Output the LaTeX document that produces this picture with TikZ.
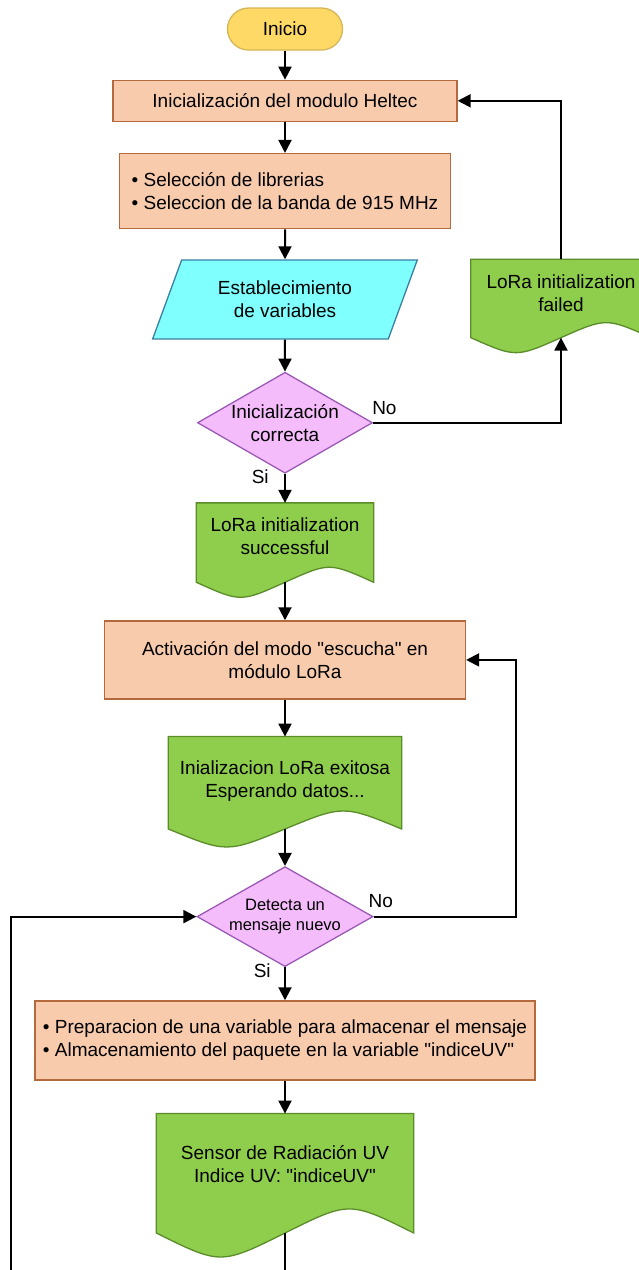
\documentclass[tikz,border=0pt]{standalone}
\usepackage{fontspec}
\setmainfont{Liberation Sans}
\usepackage{xcolor}
\usepackage{tikz}
\usetikzlibrary{positioning, arrows.meta, shapes.geometric, calc, backgrounds}

\definecolor{termfill}{HTML}{FFD966}
\definecolor{termline}{HTML}{D6B656}
\definecolor{procfill}{HTML}{F8CBAD}
\definecolor{procline}{HTML}{B46A3C}
\definecolor{iofill}{HTML}{80FFFF}
\definecolor{ioline}{HTML}{3C7FA0}
\definecolor{decfill}{HTML}{F5BCFC}
\definecolor{decline}{HTML}{9B59B6}
\definecolor{docfill}{HTML}{8FCE4C}
\definecolor{docline}{HTML}{5B8C2A}

% wavy document outline drawn under a plain node
\newcommand{\docshape}[2]{%
  \draw[docline, line width=1.3pt, fill=docfill]
    (#1.south west) -- (#1.north west) -- (#1.north east) -- (#1.south east)
    .. controls ($(#1.south east)!0.5!(#1.south)+(0,#2)$) .. (#1.south)
    .. controls ($(#1.south)!0.5!(#1.south west)+(0,-#2)$) .. (#1.south west) -- cycle;}

\begin{document}
\begin{tikzpicture}[
  font=\fontsize{19}{23}\selectfont,
  term/.style={
    rectangle, draw=termline, fill=termfill, line width=1.3pt,
    rounded corners=21pt, minimum width=115pt, minimum height=42pt
  },
  proc/.style={
    rectangle, draw=procline, fill=procfill, line width=1.3pt,
    align=center
  },
  io/.style={
    trapezium, trapezium left angle=63, trapezium right angle=117,
    draw=ioline, fill=iofill, line width=1.3pt, align=center,
    minimum width=265pt, minimum height=79pt, inner sep=0pt,
    trapezium stretches=true
  },
  decision/.style={
    diamond, draw=decline, fill=decfill, line width=1.3pt,
    inner sep=0pt, minimum width=175pt, minimum height=101pt
  },
  doc/.style={rectangle, align=center, inner sep=0pt},
  arr/.style={-{Triangle[length=13pt, width=13pt]}, line width=2pt},
  lbl/.style={font=\fontsize{19}{23}\selectfont}
]
\useasboundingbox (-285pt,29pt) rectangle (353pt,-1241pt);

\node[term] (start) at (0,0) {Inicio};
\node[proc, below=29pt of start, minimum width=344pt, minimum height=41pt] (heltec) {Inicialización del modulo Heltec};
\node[proc, below=31pt of heltec, minimum width=331pt, minimum height=75pt,
      align=left] (libs) {• Selección de librerias\\• Seleccion de la banda de 915 MHz};
\node[io, below=30pt of libs] (vars) {Establecimiento\\de variables};
\node[decision, below=32pt of vars,
      label={[align=center]center:Inicialización\\correcta}] (initok) {};
\node[doc, below=29pt of initok, minimum width=177pt, minimum height=79pt] (okmsg) {LoRa initialization\\successful\\[-11pt]};
\node[doc, anchor=north, minimum width=180pt, minimum height=78pt] (failmsg) at ([xshift=276pt]vars.north) {LoRa initialization\\failed\\[-12pt]};
\node[proc, below=38pt of okmsg, minimum width=361pt, minimum height=78pt] (listen) {Activación del modo \textquotedbl escucha\textquotedbl\ en\\módulo LoRa};
\node[doc, below=37pt of listen, minimum width=233pt, minimum height=92pt] (waitmsg) {Inializacion LoRa exitosa\\Esperando datos...\\[-16pt]};
\node[decision, below=37pt of waitmsg, minimum width=176pt, minimum height=100pt,
      label={[align=center, font=\fontsize{16.5}{19.5}\selectfont]center:Detecta un\\mensaje nuevo}] (newmsg) {};
\node[proc, below=33pt of newmsg, minimum width=500pt, minimum height=79pt,
      align=left] (store) {• Preparacion de una variable para almacenar el mensaje\\• Almacenamiento del paquete en la variable \textquotedbl indiceUV\textquotedbl};
\node[doc, below=33pt of store, minimum width=257pt, minimum height=119pt] (uvmsg) {Sensor de Radiación UV\\Indice UV: \textquotedbl indiceUV\textquotedbl\\[-4pt]};

\begin{scope}[on background layer]
\docshape{okmsg}{20pt}
\docshape{failmsg}{20pt}
\docshape{waitmsg}{24pt}
\docshape{uvmsg}{32pt}
\end{scope}

\coordinate (loopL) at (-274pt,-1241pt);
\coordinate (bottom) at (uvmsg.south |- loopL);

\draw[arr] (start) -- (heltec);
\draw[arr] (heltec) -- (libs);
\draw[arr] (libs) -- (vars);
\draw[arr] (vars) -- (initok);
\draw[arr] (initok) -- node[lbl, pos=0.1, left=12pt] {Si} (okmsg);
\draw[arr] (initok.east) -| node[lbl, pos=0.03, above=4pt] {No} (failmsg.south);
\draw[arr] (failmsg.north) |- (heltec.east);
\draw[arr] (okmsg.south) -- (listen);
\draw[arr] (listen) -- (waitmsg);
\draw[arr] (waitmsg.south) -- (newmsg);
\draw[arr] (newmsg) -- node[lbl, pos=0.1, left=10pt] {Si} (store);
\draw[arr] (newmsg.east) -- node[lbl, pos=0.05, above=5pt] {No} ++(142pt,0) |- (listen.east);
\draw[arr] (loopL) |- (newmsg.west);
\draw[arr] (store) -- (uvmsg);
\draw[line width=2pt] (uvmsg.south) -- (bottom);
\end{tikzpicture}
\end{document}
